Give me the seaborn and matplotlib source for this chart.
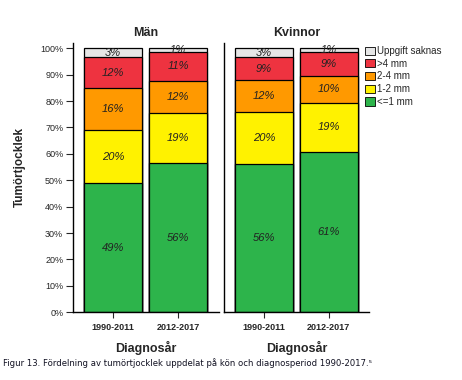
import numpy as np
import pandas as pd
import seaborn as sns
import matplotlib.pyplot as plt

# ===============================
# Data (percent of patients)
# ===============================
periods = ["1990-2011", "2012-2017"]
categories = ["<=1 mm", "1-2 mm", "2-4 mm", ">4 mm", "Uppgift saknas"]
colors = ["#2DB44B", "#FFF200", "#FF9900", "#EE3340", "#E6E6E6"]

man_values = {
    "1990-2011": [48.9, 20.0, 15.9, 12.0, 3.2],
    "2012-2017": [56.4, 19.0, 12.1, 11.2, 1.3],
}
kvinnor_values = {
    "1990-2011": [56.1, 19.7, 12.1, 8.7, 3.4],
    "2012-2017": [60.8, 18.6, 10.2, 9.1, 1.3],
}
panel_titles = ["Män", "Kvinnor"]

sns.set_style("ticks")
plt.rcParams['font.family'] = ['Liberation Sans', 'DejaVu Sans']

fig = plt.figure(figsize=(4.62, 3.80), dpi=100)
ax1 = fig.add_axes([73 / 462, 1 - 312.3 / 380, 145.7 / 462, 269.3 / 380])
ax2 = fig.add_axes([224.3 / 462, 1 - 312.3 / 380, 144.7 / 462, 269.3 / 380])


def draw_panel(ax, values, title):
    rows = []
    for p in periods:
        cum = np.cumsum(values[p])
        for i, c in enumerate(categories):
            rows.append({"period": p, "cat": c, "val": values[p][i],
                         "cum": cum[i], "mid": cum[i] - values[p][i] / 2})
    df = pd.DataFrame(rows)
    # draw tallest (cumulative) layer first, smaller ones on top
    for i in reversed(range(len(categories))):
        sub = df[df["cat"] == categories[i]]
        sns.barplot(data=sub, x="period", y="cum", order=periods,
                    color=colors[i], edgecolor="black", linewidth=0.9,
                    width=0.9, saturation=1, ax=ax, errorbar=None)
    for j, p in enumerate(periods):
        sub = df[df["period"] == p]
        for _, r in sub.iterrows():
            ax.text(j, r["mid"], f"{r['val']:.0f}%", ha="center", va="center",
                    fontsize=8, style="italic", color="#222222")
    ax.set_xlim(-0.615, 1.625)
    ax.set_ylim(0, 102)
    ax.set_title(title, fontsize=9, fontweight="bold", pad=5)
    ax.set_xlabel("Diagnosår", fontsize=9, fontweight="bold", labelpad=6)
    ax.set_ylabel("")
    ax.tick_params(axis="x", length=4, width=0.8, labelsize=6.5, pad=4)
    for lab in ax.get_xticklabels():
        lab.set_fontweight("bold")
    sns.despine(ax=ax)
    for s in ["left", "bottom"]:
        ax.spines[s].set_linewidth(1.0)
        ax.spines[s].set_color("black")


draw_panel(ax1, man_values, panel_titles[0])
draw_panel(ax2, kvinnor_values, panel_titles[1])

ax1.set_yticks(np.arange(0, 101, 10))
ax1.set_yticklabels([f"{v}%" for v in range(0, 101, 10)])
ax1.tick_params(axis="y", length=5, width=0.8, labelsize=6.5, pad=2)
ax2.set_yticks([])

fig.text(20 / 462, 1 - 167 / 380, "Tumörtjocklek", rotation=90, ha="center",
         va="center", fontsize=8.5, fontweight="bold")

# legend
handles = [plt.Rectangle((0, 0), 1, 1, facecolor=colors[i], edgecolor="black",
                         linewidth=0.6) for i in reversed(range(len(categories)))]
labels = list(reversed(categories))
fig.legend(handles, labels, loc="upper left", bbox_to_anchor=(364 / 462, 1 - 45 / 380),
           frameon=False, fontsize=7, handlelength=1.0, handleheight=0.9,
           handletextpad=0.25, labelspacing=0.28, borderaxespad=0, borderpad=0.1)

fig.text(3 / 462, 1 - 363 / 380,
         "Figur 13. Fördelning av tumörtjocklek uppdelat på kön och diagnosperiod 1990-2017.⁵",
         fontsize=6.1, color="#111122", ha="left", va="center",
         family=["DejaVu Sans"])

fig.savefig("out.png", dpi=100)
